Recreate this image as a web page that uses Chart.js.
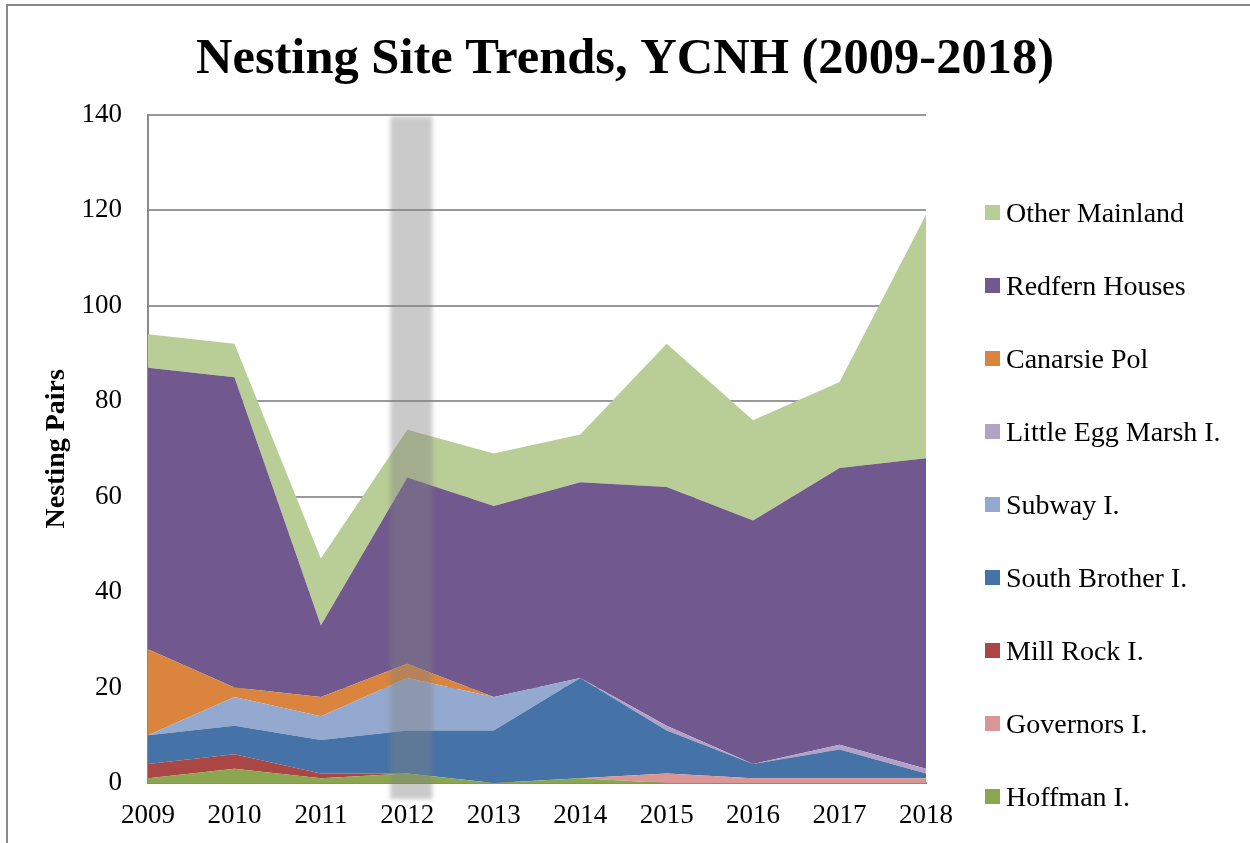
<!DOCTYPE html>
<html>
<head>
<meta charset="utf-8">
<script src="https://cdn.jsdelivr.net/npm/chart.js@4.4.0/dist/chart.umd.min.js"></script>
<style>
  html, body { margin: 0; padding: 0; background: #fff; overflow: hidden; }
  #wrap { position: relative; width: 1250px; height: 843px; }
  #frame { position: absolute; left: 6px; top: 4px; width: 1300px; height: 900px; border: 2px solid #8a8a8a; pointer-events: none; }
  #legend { position: absolute; left: 985px; top: 176px; font-family: "Liberation Serif", serif; font-size: 28px; color: #000; }
  .item { display: flex; align-items: center; height: 73px; white-space: nowrap; }
  .box { width: 15px; height: 15px; margin-right: 6px; }
</style>
</head>
<body>
<div id="wrap">
  <canvas id="chart" width="1250" height="843"></canvas>
  <div id="frame"></div>
  <div id="legend"></div>
</div>
<script>
// datos (parejas por sitio, apiladas)
const years = ["2009", "2010", "2011", "2012", "2013", "2014", "2015", "2016", "2017", "2018"];
const hoffman = [1, 3, 1, 2, 0, 1, 0, 0, 0, 0];
const governors = [0, 0, 0, 0, 0, 0, 2, 1, 1, 1];
const millRock = [3, 3, 1, 0, 0, 0, 0, 0, 0, 0];
const southBrother = [6, 6, 7, 9, 11, 21, 9, 3, 6, 1];
const subway = [0, 6, 5, 11, 7, 0, 0, 0, 0, 0];
const littleEgg = [0, 0, 0, 0, 0, 0, 1, 0, 1, 1];
const canarsie = [18, 2, 4, 3, 0, 0, 0, 0, 0, 0];
const redfern = [59, 65, 15, 39, 40, 41, 50, 51, 58, 65];
const otherMainland = [7, 7, 14, 10, 11, 10, 30, 21, 18, 51];
const highlightYear = "2012";

const font = "Liberation Serif";

function area(label, data, color, fill) {
  return {
    label: label,
    data: data,
    backgroundColor: color,
    borderColor: color,
    borderWidth: 0,
    pointRadius: 0,
    tension: 0,
    fill: fill
  };
}

// franja gris sobre 2012
const highlightPlugin = {
  id: "highlight",
  afterDatasetsDraw(chart) {
    const { ctx, scales: { x, y } } = chart;
    const cx = x.getPixelForValue(years.indexOf(highlightYear)) + 4;
    ctx.save();
    ctx.filter = "blur(2px)";
    ctx.fillStyle = "rgba(128,128,128,0.42)";
    ctx.fillRect(cx - 21, y.top + 2, 42, y.bottom - y.top + 14);
    ctx.restore();
  }
};

const ctx = document.getElementById("chart").getContext("2d");
const chart = new Chart(ctx, {
  type: "line",
  data: {
    labels: years,
    datasets: [
      area("Hoffman I.", hoffman, "#8aa650", "origin"),
      area("Governors I.", governors, "#d99694", "-1"),
      area("Mill Rock I.", millRock, "#aa4643", "-1"),
      area("South Brother I.", southBrother, "#4572a7", "-1"),
      area("Subway I.", subway, "#93a9cf", "-1"),
      area("Little Egg Marsh I.", littleEgg, "#b3a2c7", "-1"),
      area("Canarsie Pol", canarsie, "#db843d", "-1"),
      area("Redfern Houses", redfern, "#71588f", "-1"),
      area("Other Mainland", otherMainland, "#b9cd96", "-1")
    ]
  },
  options: {
    responsive: false,
    devicePixelRatio: 1,
    animation: false,
    layout: { padding: { left: 0, right: 0, top: 0, bottom: 10 } },
    plugins: {
      legend: { display: false },
      tooltip: { enabled: false },
      title: {
        display: true,
        text: "Nesting Site Trends, YCNH (2009-2018)",
        color: "#000",
        font: { family: font, size: 50.5, weight: "bold" },
        padding: { top: 30, bottom: 24 }
      }
    },
    scales: {
      x: {
        offset: false,
        grid: { display: false, drawTicks: false },
        border: { display: true, color: "#8a8a8a", width: 2 },
        ticks: {
          color: "#000",
          font: { family: font, size: 27 },
          padding: 17,
          maxRotation: 0,
          autoSkip: false
        },
        afterFit(scale) { scale.height = 50; }
      },
      y: {
        stacked: true,
        min: 0,
        max: 140,
        ticks: { stepSize: 20, color: "#000", font: { family: font, size: 27 }, padding: 26 },
        grid: { color: "#999", lineWidth: 2, drawTicks: false },
        border: { color: "#8a8a8a", width: 2 },
        title: {
          display: true,
          text: "Nesting Pairs",
          color: "#000",
          font: { family: font, size: 28, weight: "bold" },
          padding: { top: 40, bottom: 4 }
        },
        afterFit(scale) { scale.width = 148; }
      },
      // eje vacio a la derecha, solo reserva el sitio de la leyenda
      side: {
        position: "right",
        grid: { display: false, drawTicks: false },
        border: { display: false },
        ticks: { display: false },
        afterFit(scale) { scale.width = 324; }
      }
    }
  },
  plugins: [highlightPlugin]
});

// leyenda en html, orden invertido como en el original
const legend = document.getElementById("legend");
chart.data.datasets.slice().reverse().forEach(function (ds) {
  const item = document.createElement("div");
  item.className = "item";
  const box = document.createElement("span");
  box.className = "box";
  box.style.background = ds.backgroundColor;
  const text = document.createElement("span");
  text.textContent = ds.label;
  item.appendChild(box);
  item.appendChild(text);
  legend.appendChild(item);
});
</script>
</body>
</html>
